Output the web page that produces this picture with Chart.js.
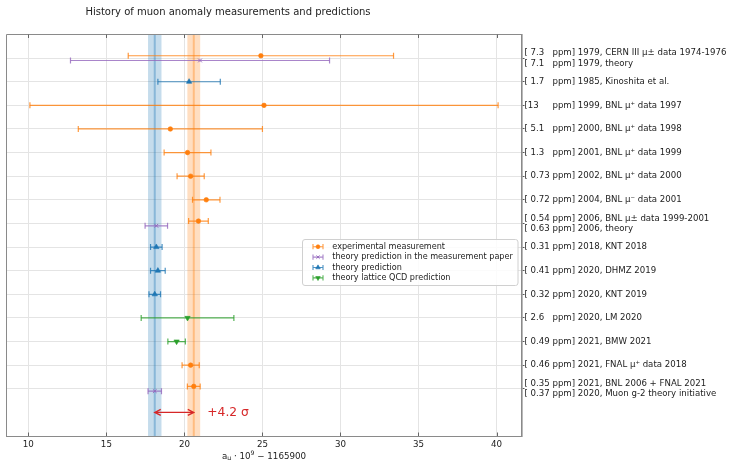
<!DOCTYPE html>
<html><head><meta charset="utf-8">
<script src="https://cdn.jsdelivr.net/npm/chart.js@4"></script>
<style>html,body{margin:0;padding:0;background:#fff}#wrap{width:730px;height:460px}</style>
</head><body><div id="wrap"><canvas id="c" width="730" height="460"></canvas></div>
<script>
// ---------------- data ----------------
const titleText = 'History of muon anomaly measurements and predictions';
const xTicks = [10, 15, 20, 25, 30, 35, 40];
const yTickRows = [0, 1, 2, 3, 4, 5, 6, 7, 8, 9, 10, 11, 12, 13, 14];
const yTickLabels = [
  ['[ 7.3   ppm] 1979, CERN III \u03bc\u00b1 data 1974-1976', '[ 7.1   ppm] 1979, theory'],
  '[ 1.7   ppm] 1985, Kinoshita et al.',
  '[13     ppm] 1999, BNL \u03bc\u207a data 1997',
  '[ 5.1   ppm] 2000, BNL \u03bc\u207a data 1998',
  '[ 1.3   ppm] 2001, BNL \u03bc\u207a data 1999',
  '[ 0.73 ppm] 2002, BNL \u03bc\u207a data 2000',
  '[ 0.72 ppm] 2004, BNL \u03bc\u207b data 2001',
  ['[ 0.54 ppm] 2006, BNL \u03bc\u00b1 data 1999-2001', '[ 0.63 ppm] 2006, theory'],
  '[ 0.31 ppm] 2018, KNT 2018',
  '[ 0.41 ppm] 2020, DHMZ 2019',
  '[ 0.32 ppm] 2020, KNT 2019',
  '[ 2.6   ppm] 2020, LM 2020',
  '[ 0.49 ppm] 2021, BMW 2021',
  '[ 0.46 ppm] 2021, FNAL \u03bc\u207a data 2018',
  ['[ 0.35 ppm] 2021, BNL 2006 + FNAL 2021', '[ 0.37 ppm] 2020, Muon g-2 theory initiative']
];
// kinds: exp = experimental measurement, paper = theory in measurement paper,
// theory = theory prediction, lattice = lattice QCD prediction
const pointKinds   = ['exp','paper','theory','exp','exp','exp','exp','exp','exp','paper','theory','theory','theory','lattice','lattice','exp','exp','paper'];
const pointCenters = [24.9, 21.0, 20.3, 25.1, 19.1, 20.2, 20.4, 21.4, 20.9, 18.2, 18.2, 18.3, 18.1, 20.2, 19.5, 20.4, 20.6, 18.1];
const pointErrors  = [8.5, 8.3, 2.0, 15.0, 5.9, 1.5, 0.87, 0.88, 0.63, 0.72, 0.37, 0.47, 0.37, 2.97, 0.56, 0.55, 0.41, 0.43];
const pointRows    = [0, 0, 1, 2, 3, 4, 5, 6, 7, 7, 8, 9, 10, 11, 12, 13, 14, 14];
const legendKinds  = ['exp', 'paper', 'theory', 'lattice'];
const legendLabels = ['experimental measurement', 'theory prediction in the measurement paper', 'theory prediction', 'theory lattice QCD prediction'];
const expBandIndex = 16;     // BNL 2006 + FNAL 2021 average
const theoryBandIndex = 17;  // Muon g-2 theory initiative
const arrowRow = 15;
const sigmaText = '+4.2 \u03c3';

// ---------------- styles ----------------
const FONT = 'DejaVu Sans';
const colors = {exp: '#ff7f0e', paper: '#9467bd', theory: '#1f77b4', lattice: '#2ca02c'};
const markers = {
  exp: {style: 'circle', r: 2.3, rot: 0, bw: 0.6},
  paper: {style: 'crossRot', r: 2.6, rot: 0, bw: 1},
  theory: {style: 'triangle', r: 3.1, rot: 0, bw: 0.6},
  lattice: {style: 'triangle', r: 3.1, rot: 180, bw: 0.6}
};
function rgba(hex, a) {
  const n = parseInt(hex.slice(1), 16);
  return `rgba(${(n >> 16) & 255},${(n >> 8) & 255},${n & 255},${a})`;
}

// row offsets for rows shared by two entries
const rowCount = {};
pointRows.forEach(r => rowCount[r] = (rowCount[r] || 0) + 1);
const seen = {};
const pointY = pointRows.map(r => {
  if (rowCount[r] === 1) return r;
  seen[r] = (seen[r] || 0) + 1;
  return r + (seen[r] === 1 ? -0.1 : 0.1);
});

const datasets = [];
pointCenters.forEach((c, i) => {
  const k = pointKinds[i], y = pointY[i], e = pointErrors[i], m = markers[k];
  const lc = rgba(colors[k], 0.8);
  datasets.push({
    data: [{x: c - e, y}, {x: c + e, y}], showLine: true, fill: false, tension: 0,
    borderColor: lc, borderWidth: 1.2,
    pointStyle: 'line', pointRotation: 90, pointRadius: 3, pointHoverRadius: 3,
    pointBorderColor: lc, pointBorderWidth: 1.2
  });
  datasets.push({
    data: [{x: c, y}], showLine: false,
    pointStyle: m.style, pointRotation: m.rot, pointRadius: m.r, pointHoverRadius: m.r,
    pointBackgroundColor: colors[k], pointBorderColor: colors[k], pointBorderWidth: m.bw
  });
});

const extras = {
  id: 'extras',
  beforeDatasetsDraw(chart) {
    const {ctx, chartArea: a, scales: {x}} = chart;
    ctx.save();
    ctx.beginPath(); ctx.rect(a.left, a.top, a.right - a.left, a.bottom - a.top); ctx.clip();
    const bands = [[theoryBandIndex, colors.theory], [expBandIndex, colors.exp]];
    bands.forEach(([idx, col]) => {
      const c = pointCenters[idx], e = pointErrors[idx];
      const x1 = x.getPixelForValue(c - e), x2 = x.getPixelForValue(c + e), xc = x.getPixelForValue(c);
      ctx.fillStyle = rgba(col, 0.26);
      ctx.fillRect(x1, a.top, x2 - x1, a.bottom - a.top);
      ctx.strokeStyle = rgba(col, 0.36);
      ctx.lineWidth = 2;
      ctx.beginPath(); ctx.moveTo(xc, a.top); ctx.lineTo(xc, a.bottom); ctx.stroke();
    });
    ctx.restore();
  },
  afterDraw(chart) {
    const {ctx, chartArea: a, scales: {x, y}} = chart;
    ctx.save();
    // frame
    ctx.strokeStyle = '#8a8a8a'; ctx.lineWidth = 1;
    ctx.beginPath();
    ctx.moveTo(a.left, a.bottom); ctx.lineTo(a.left, a.top); ctx.lineTo(a.right, a.top);
    ctx.stroke();
    // inward ticks top / bottom
    ctx.strokeStyle = '#666';
    xTicks.forEach(v => {
      const px = Math.round(x.getPixelForValue(v)) + 0.5;
      ctx.beginPath(); ctx.moveTo(px, a.top); ctx.lineTo(px, a.top + 3.5); ctx.stroke();
      ctx.beginPath(); ctx.moveTo(px, a.bottom); ctx.lineTo(px, a.bottom - 3.5); ctx.stroke();
    });
    // title
    ctx.fillStyle = '#222';
    ctx.font = `10px "${FONT}"`;
    ctx.textAlign = 'center'; ctx.textBaseline = 'middle';
    ctx.fillText(titleText, 228, 12.5);
    // x axis title with sub/superscript
    const parts = [
      {t: 'a', s: 8.7, dy: 0},
      {t: '\u03bc', s: 6.2, dy: 2.2},
      {t: ' \u00b7 10', s: 8.7, dy: 0},
      {t: '9', s: 6.2, dy: -3},
      {t: ' \u2212 1165900', s: 8.7, dy: 0}
    ];
    let tw = 0;
    parts.forEach(p => { ctx.font = `${p.s}px "${FONT}"`; p.w = ctx.measureText(p.t).width; tw += p.w; });
    let cx = (a.left + a.right) / 2 - tw / 2;
    ctx.textAlign = 'left';
    parts.forEach(p => { ctx.font = `${p.s}px "${FONT}"`; ctx.fillText(p.t, cx, 456.5 + p.dy); cx += p.w; });
    // legend
    const lx = 302.5, ly = 239.5, lw = 215.5, lh = 46;
    ctx.fillStyle = 'rgba(255,255,255,0.85)';
    ctx.strokeStyle = '#d0d0d0'; ctx.lineWidth = 1;
    ctx.beginPath();
    if (ctx.roundRect) ctx.roundRect(lx, ly, lw, lh, 2.5); else ctx.rect(lx, ly, lw, lh);
    ctx.fill(); ctx.stroke();
    legendKinds.forEach((k, i) => {
      const yy = 246.7 + i * 10.4;
      const lc = rgba(colors[k], 0.8);
      ctx.strokeStyle = lc; ctx.lineWidth = 1.1;
      ctx.beginPath(); ctx.moveTo(313, yy); ctx.lineTo(323, yy);
      ctx.moveTo(313, yy - 2.6); ctx.lineTo(313, yy + 2.6);
      ctx.moveTo(323, yy - 2.6); ctx.lineTo(323, yy + 2.6);
      ctx.stroke();
      const m = markers[k];
      ctx.fillStyle = colors[k]; ctx.strokeStyle = colors[k]; ctx.lineWidth = m.bw;
      Chart.helpers.drawPoint(ctx, {pointStyle: m.style, rotation: m.rot, radius: m.r * 0.85, borderWidth: m.bw}, 318, yy);
      ctx.fillStyle = '#222';
      ctx.font = `8.1px "${FONT}"`;
      ctx.textAlign = 'left'; ctx.textBaseline = 'middle';
      ctx.fillText(legendLabels[i], 332.3, yy);
    });
    // sigma arrow
    const red = '#d62728';
    const x1 = x.getPixelForValue(pointCenters[theoryBandIndex]);
    const x2 = x.getPixelForValue(pointCenters[expBandIndex]);
    const ya = y.getPixelForValue(arrowRow);
    ctx.strokeStyle = red; ctx.lineWidth = 1.3;
    ctx.beginPath(); ctx.moveTo(x1, ya); ctx.lineTo(x2, ya);
    ctx.moveTo(x1 + 6, ya - 3); ctx.lineTo(x1, ya); ctx.lineTo(x1 + 6, ya + 3);
    ctx.moveTo(x2 - 6, ya - 3); ctx.lineTo(x2, ya); ctx.lineTo(x2 - 6, ya + 3);
    ctx.stroke();
    ctx.fillStyle = red;
    ctx.font = `12.3px "${FONT}"`;
    ctx.textAlign = 'left'; ctx.textBaseline = 'middle';
    ctx.fillText(sigmaText, x2 + 13.5, ya);
    ctx.restore();
  }
};

new Chart(document.getElementById('c'), {
  type: 'scatter',
  data: {datasets},
  options: {
    responsive: false, animation: false, devicePixelRatio: 1, events: [],
    layout: {padding: {left: 6.5, top: 34.5, right: 0, bottom: 0}},
    plugins: {legend: {display: false}, tooltip: {enabled: false}, title: {display: false}},
    scales: {
      x: {
        type: 'linear', position: 'bottom', min: 8.6, max: 41.6,
        afterBuildTicks: s => { s.ticks = xTicks.map(v => ({value: v})); },
        afterFit: s => { s.height = 24; },
        grid: {color: '#e4e4e4', lineWidth: 1, drawTicks: false},
        border: {color: '#8a8a8a', width: 1},
        ticks: {padding: 4, color: '#222', font: {family: FONT, size: 8.7}, maxRotation: 0}
      },
      y: {
        type: 'linear', position: 'right', min: -1, max: 16, reverse: true,
        afterBuildTicks: s => { s.ticks = yTickRows.map(v => ({value: v})); },
        afterFit: s => { s.width = 208.5; },
        grid: {color: '#e4e4e4', lineWidth: 1, drawTicks: true, tickLength: 3, tickColor: '#555'},
        border: {color: '#8a8a8a', width: 1.6},
        ticks: {
          padding: 0, color: '#222', font: {family: FONT, size: 8.6, lineHeight: 1.2},
          callback: (v) => yTickLabels[yTickRows.indexOf(v)]
        }
      }
    }
  },
  plugins: [extras]
});
</script>
</body></html>
